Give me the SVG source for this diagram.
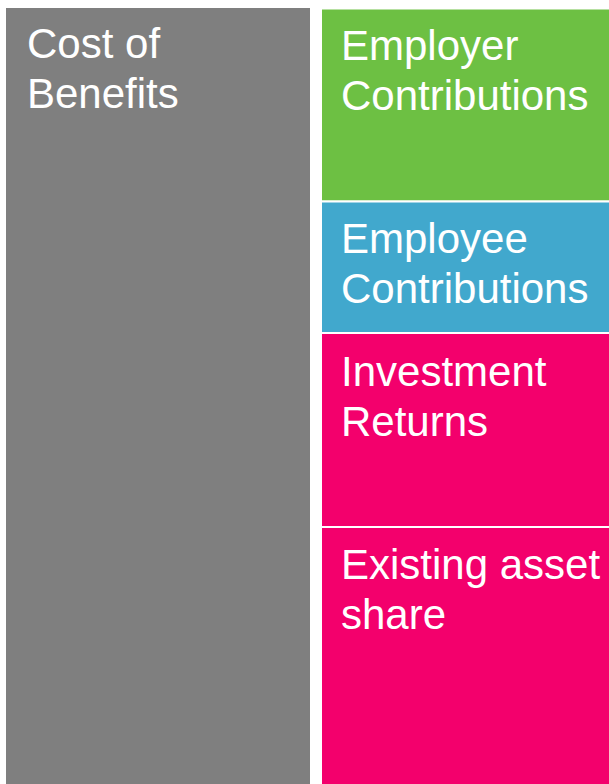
<svg xmlns="http://www.w3.org/2000/svg" width="609" height="784" viewBox="0 0 609 784">
  <style>
    .lbl { font-family: "Liberation Sans", Arial, sans-serif; font-size: 42px; fill: #ffffff; }
    .box { stroke: #ffffff; stroke-width: 2; }
  </style>
  <rect width="609" height="784" fill="#ffffff"/>
  <g id="cost-of-benefits">
    <rect x="6" y="8" width="304" height="780" fill="#7f7f7f"/>
    <text class="lbl" x="27" y="58">Cost of</text>
    <text class="lbl" x="27" y="108">Benefits</text>
  </g>
  <g id="employer-contributions">
    <rect class="box" x="321" y="8.5" width="292" height="193" fill="#6dc043"/>
    <text class="lbl" x="341" y="60">Employer</text>
    <text class="lbl" x="341" y="110">Contributions</text>
  </g>
  <g id="employee-contributions">
    <rect class="box" x="321" y="201.5" width="292" height="131.5" fill="#41a8cd"/>
    <text class="lbl" x="341" y="253">Employee</text>
    <text class="lbl" x="341" y="303">Contributions</text>
  </g>
  <g id="investment-returns">
    <rect class="box" x="321" y="333" width="292" height="194" fill="#f3006c"/>
    <text class="lbl" x="341" y="386">Investment</text>
    <text class="lbl" x="341" y="436">Returns</text>
  </g>
  <g id="existing-asset-share">
    <rect class="box" x="321" y="527" width="292" height="262" fill="#f3006c"/>
    <text class="lbl" x="341" y="579">Existing asset</text>
    <text class="lbl" x="341" y="629">share</text>
  </g>
  <g id="connectors"/>
</svg>
